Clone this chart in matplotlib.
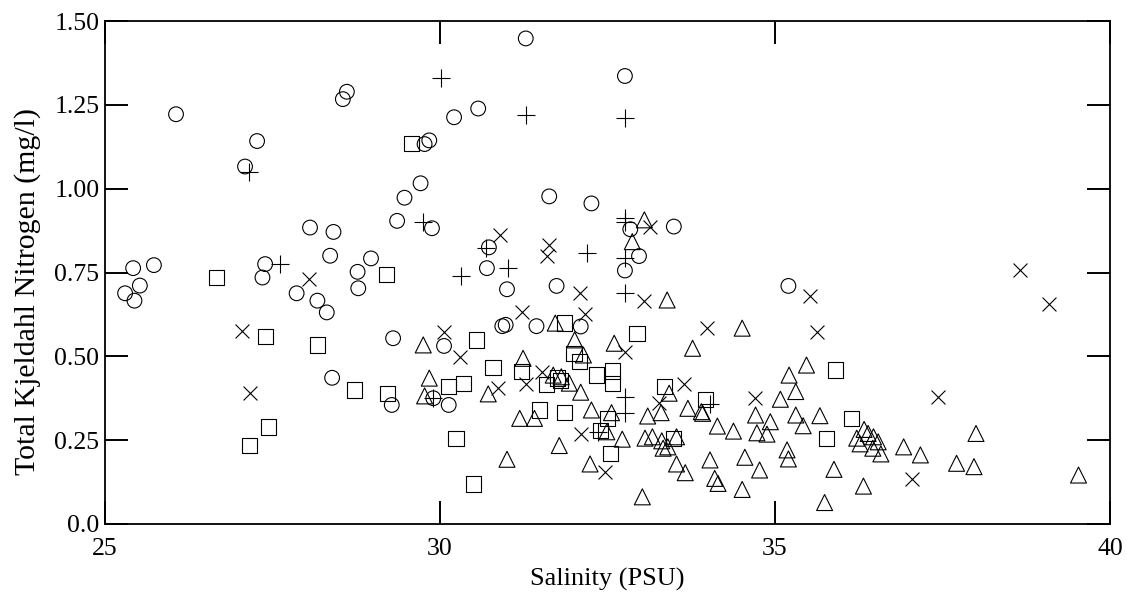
import matplotlib
matplotlib.use("Agg")
import matplotlib.pyplot as plt
from matplotlib.ticker import FixedLocator, FixedFormatter

# ---------------- data ----------------
circle_x = [25.30, 25.42, 25.44, 25.52, 25.73, 26.06, 27.09, 27.27, 27.39, 27.35,
            27.86, 28.06, 28.17, 28.31, 28.36, 28.41, 28.39, 28.55, 28.61, 28.77,
            28.78, 28.97, 29.28, 29.30, 29.36, 29.47, 29.71, 29.77, 29.84, 29.88,
            29.90, 30.06, 30.13, 30.21, 30.57, 30.70, 30.73, 30.93, 30.98, 31.00,
            31.28, 31.44, 31.63, 31.74, 32.10, 32.26, 32.76, 32.76, 32.84, 32.97,
            33.49, 35.20]
circle_y = [0.688, 0.763, 0.666, 0.711, 0.772, 1.222, 1.066, 1.142, 0.775, 0.735,
            0.688, 0.884, 0.666, 0.631, 0.800, 0.871, 0.436, 1.267, 1.289, 0.752,
            0.703, 0.792, 0.355, 0.554, 0.904, 0.973, 1.016, 1.133, 1.144, 0.882,
            0.375, 0.531, 0.355, 1.213, 1.239, 0.763, 0.825, 0.590, 0.594, 0.700,
            1.448, 0.590, 0.977, 0.710, 0.589, 0.956, 1.336, 0.756, 0.879, 0.799,
            0.887, 0.710]

plus_x = [27.15, 27.61, 29.75, 30.01, 30.31, 30.69, 31.02, 31.28, 32.20, 32.76,
          32.76, 32.76, 32.76, 32.76, 32.76, 32.76, 29.90, 32.36, 34.03]
plus_y = [1.051, 0.775, 0.902, 1.329, 0.740, 0.822, 0.763, 1.220, 0.809, 1.210,
          0.912, 0.900, 0.792, 0.688, 0.380, 0.330, 0.375, 0.275, 0.358]

cross_x = [27.04, 27.17, 28.05, 30.06, 30.30, 30.86, 30.90, 31.22, 31.28, 31.52,
           31.59, 31.62, 32.09, 32.16, 32.10, 32.47, 32.76, 33.05, 33.13, 33.27,
           33.64, 33.99, 34.70, 35.52, 35.63, 37.05, 37.43, 38.66, 39.09]
cross_y = [0.577, 0.390, 0.730, 0.574, 0.499, 0.405, 0.862, 0.633, 0.418, 0.454,
           0.799, 0.832, 0.688, 0.626, 0.268, 0.156, 0.514, 0.666, 0.887, 0.360,
           0.418, 0.584, 0.375, 0.680, 0.574, 0.134, 0.378, 0.758, 0.656]

square_x = [26.66, 27.16, 27.40, 27.44, 28.17, 28.72, 29.20, 29.22, 29.58, 30.13,
            30.24, 30.35, 30.50, 30.54, 30.79, 31.22, 31.48, 31.59, 31.75, 31.80,
            31.86, 31.86, 32.00, 32.08, 32.34, 32.40, 32.50, 32.54, 32.57, 32.57,
            32.94, 33.35, 33.49, 33.96, 35.77, 35.90, 36.14]
square_y = [0.735, 0.234, 0.559, 0.289, 0.534, 0.400, 0.743, 0.390, 1.135, 0.410,
            0.254, 0.418, 0.119, 0.549, 0.467, 0.454, 0.340, 0.415, 0.435, 0.429,
            0.599, 0.333, 0.509, 0.484, 0.444, 0.278, 0.315, 0.211, 0.456, 0.420,
            0.569, 0.410, 0.254, 0.372, 0.256, 0.459, 0.315]

tri_x = [29.75, 29.84, 29.77, 30.72, 31.00, 31.24, 31.19, 31.41, 31.72, 31.78,
         31.69, 31.81, 31.93, 32.01, 32.14, 32.10, 32.26, 32.56, 32.24, 32.49,
         32.60, 32.72, 32.87, 33.05, 33.39, 33.02, 33.06, 33.10, 33.17, 33.30,
         33.31, 33.33, 33.40, 33.42, 33.53, 33.53, 33.66, 33.70, 33.77, 33.90,
         33.92, 34.03, 34.10, 34.15, 34.14, 34.38, 34.51, 34.51, 34.55, 34.71,
         34.73, 34.77, 34.88, 34.93, 35.08, 35.18, 35.20, 35.21, 35.31, 35.31,
         35.42, 35.47, 35.67, 35.74, 35.88, 36.22, 36.27, 36.32, 36.33, 36.39,
         36.46, 36.47, 36.54, 36.58, 36.92, 37.17, 37.71, 37.97, 38.00, 39.53]
tri_y = [0.534, 0.435, 0.382, 0.388, 0.193, 0.494, 0.315, 0.315, 0.599, 0.234,
         0.444, 0.439, 0.420, 0.549, 0.504, 0.393, 0.340, 0.332, 0.179, 0.275,
         0.539, 0.253, 0.842, 0.907, 0.668, 0.081, 0.256, 0.322, 0.260, 0.332,
         0.248, 0.226, 0.230, 0.390, 0.260, 0.179, 0.153, 0.345, 0.524, 0.335,
         0.330, 0.191, 0.136, 0.121, 0.292, 0.277, 0.584, 0.103, 0.199, 0.325,
         0.272, 0.161, 0.268, 0.305, 0.372, 0.221, 0.194, 0.444, 0.395, 0.325,
         0.293, 0.474, 0.323, 0.064, 0.163, 0.256, 0.239, 0.113, 0.282, 0.270,
         0.226, 0.260, 0.245, 0.209, 0.230, 0.206, 0.181, 0.171, 0.270, 0.146]

x_ticks = [25, 30, 35, 40]
x_tick_labels = ["25", "30", "35", "40"]
y_ticks = [0.0, 0.25, 0.50, 0.75, 1.00, 1.25, 1.50]
y_tick_labels = ["0.0", "0.25", "0.50", "0.75", "1.00", "1.25", "1.50"]

# ---------------- figure ----------------
plt.rcParams['font.family'] = ['Liberation Serif', 'DejaVu Serif']
W, H = 1127, 597
fig = plt.figure(figsize=(W / 100, H / 100), dpi=100)
ax = fig.add_axes([105 / W, (H - 524) / H, (1110 - 105) / W, (524 - 21) / H])

lw = 0.8
common = dict(facecolors='none', edgecolors='black', linewidths=lw, zorder=3)
ax.scatter(circle_x, circle_y, marker='o', s=10.6 ** 2, **common)
ax.scatter(square_x, square_y, marker='s', s=11.0 ** 2, **common)
ax.scatter(tri_x, tri_y, marker='^', s=11.5 ** 2, **common)
ax.scatter(plus_x, plus_y, marker='+', s=13.5 ** 2, c='black', linewidths=lw, zorder=3)
ax.scatter(cross_x, cross_y, marker='x', s=10.0 ** 2, c='black', linewidths=lw, zorder=3)

ax.set_xlim(25, 40)
ax.set_ylim(0, 1.5)
ax.xaxis.set_major_locator(FixedLocator(x_ticks))
ax.xaxis.set_major_formatter(FixedFormatter(x_tick_labels))
ax.yaxis.set_major_locator(FixedLocator(y_ticks))
ax.yaxis.set_major_formatter(FixedFormatter(y_tick_labels))

ax.tick_params(axis='both', which='major', direction='in', length=16.5, width=1.4,
               top=True, right=True, labelsize=18.5, color='black')
ax.tick_params(axis='x', pad=10)
ax.tick_params(axis='y', pad=4)
for sp in ax.spines.values():
    sp.set_linewidth(1.3)
    sp.set_color('black')

ax.set_xlabel("Salinity (PSU)", fontsize=19, labelpad=6)
ax.set_ylabel("Total Kjeldahl Nitrogen (mg/l)", fontsize=21.5)
ax.yaxis.set_label_coords(-64 / (1110 - 105), 0.463)

fig.savefig("out.png", dpi=100)
